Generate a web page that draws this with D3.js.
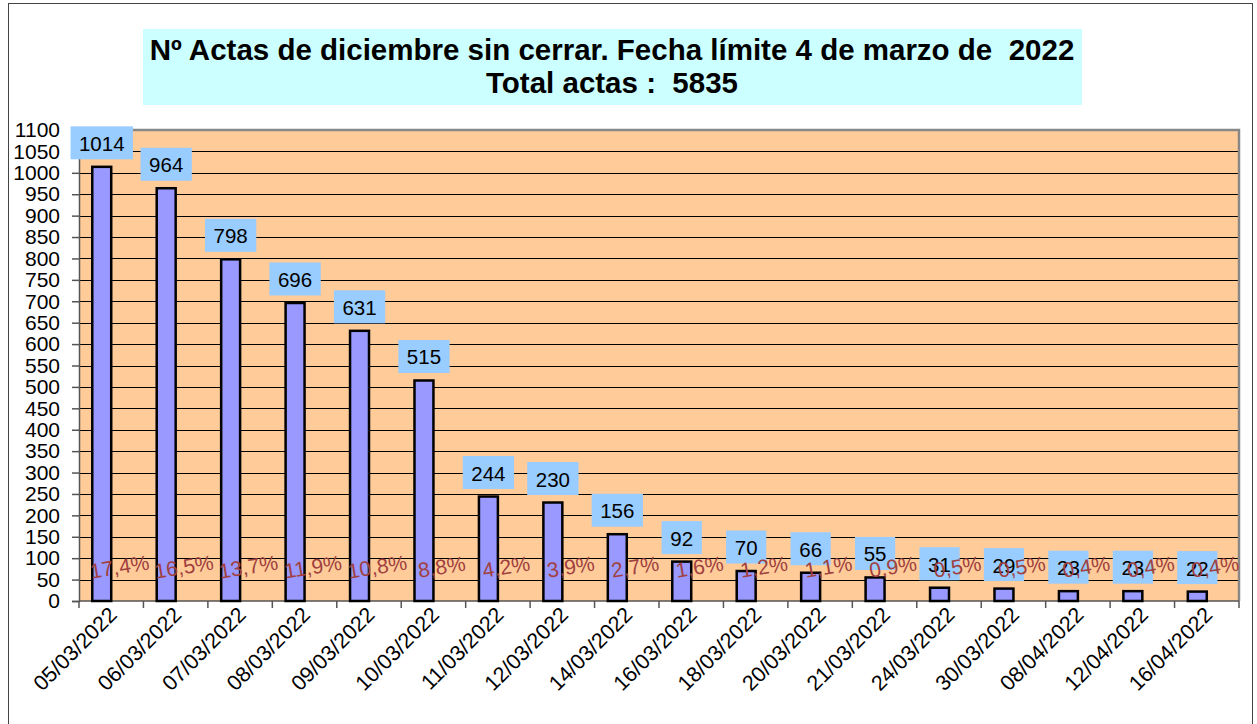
<!DOCTYPE html>
<html>
<head>
<meta charset="utf-8">
<script src="https://cdnjs.cloudflare.com/ajax/libs/d3/7.8.5/d3.min.js"></script>
<style>
  body { margin: 0; background: #fff; }
  text { font-family: Arial, "Liberation Sans", sans-serif; }
</style>
</head>
<body>
<div id="chart"></div>
<script>
// Data
var fechas = ["05/03/2022", "06/03/2022", "07/03/2022", "08/03/2022", "09/03/2022", "10/03/2022",
  "11/03/2022", "12/03/2022", "14/03/2022", "16/03/2022", "18/03/2022", "20/03/2022",
  "21/03/2022", "24/03/2022", "30/03/2022", "08/04/2022", "12/04/2022", "16/04/2022"];
var actas = [1014, 964, 798, 696, 631, 515, 244, 230, 156, 92, 70, 66, 55, 31, 29, 23, 23, 22];
var porcentajes = ["17,4%", "16,5%", "13,7%", "11,9%", "10,8%", "8,8%", "4,2%", "3,9%", "2,7%",
  "1,6%", "1,2%", "1,1%", "0,9%", "0,5%", "0,5%", "0,4%", "0,4%", "0,4%"];
var yTicks = d3.range(0, 1101, 50);
var titulo1 = "Nº Actas de diciembre sin cerrar. Fecha límite 4 de marzo de  2022";
var titulo2 = "Total actas :  5835";

var width = 1257;
var height = 724;
var plotLeft = 79;
var plotRight = 1239;
var plotTop = 130;
var plotBottom = 601;

var svg = d3.select("#chart")
  .append("svg")
  .attr("width", width)
  .attr("height", height);

// outer frame
svg.append("rect")
  .attr("x", 8.5).attr("y", 3.5)
  .attr("width", 1244).attr("height", 740)
  .attr("fill", "#fff")
  .attr("stroke", "#444")
  .attr("stroke-width", 1);

// title box
svg.append("rect")
  .attr("x", 143).attr("y", 29)
  .attr("width", 939).attr("height", 76)
  .attr("fill", "#ccffff");

svg.append("text")
  .attr("x", 612).attr("y", 60)
  .attr("text-anchor", "middle")
  .attr("font-size", "29.5px")
  .attr("font-weight", "bold")
  .style("white-space", "pre")
  .text(titulo1);
svg.append("text")
  .attr("x", 612).attr("y", 93)
  .attr("text-anchor", "middle")
  .attr("font-size", "29.5px")
  .attr("font-weight", "bold")
  .style("white-space", "pre")
  .text(titulo2);

// scales
var xScale = d3.scaleBand()
  .domain(fechas)
  .range([plotLeft, plotRight])
  .padding(0);

// two slots per date: the count bar and the (empty) percentage slot
var subScale = d3.scaleBand()
  .domain(["n", "p"])
  .range([0, xScale.bandwidth()])
  .paddingInner(0)
  .paddingOuter(0.7);

var yScale = d3.scaleLinear()
  .domain([0, 1100])
  .range([plotBottom, plotTop]);

// plot background
svg.append("rect")
  .attr("x", plotLeft).attr("y", plotTop)
  .attr("width", plotRight - plotLeft).attr("height", plotBottom - plotTop)
  .attr("fill", "#ffcc99");

// gridlines
svg.append("g")
  .selectAll("line")
  .data(yTicks.slice(1))
  .enter()
  .append("line")
  .attr("x1", plotLeft).attr("x2", plotRight)
  .attr("y1", function(d) { return Math.round(yScale(d)) + 0.5; })
  .attr("y2", function(d) { return Math.round(yScale(d)) + 0.5; })
  .attr("stroke", "#000")
  .attr("stroke-width", 1);

// plot border (top and right, gray)
svg.append("path")
  .attr("d", "M" + plotLeft + "," + plotTop + "H" + plotRight + "V" + plotBottom)
  .attr("fill", "none")
  .attr("stroke", "#888")
  .attr("stroke-width", 2.5);

// y axis
var yAxis = d3.axisLeft(yScale)
  .tickValues(yTicks)
  .tickFormat(d3.format("d"))
  .tickSize(7)
  .tickPadding(12);

var yG = svg.append("g")
  .attr("transform", "translate(" + plotLeft + ",0)")
  .call(yAxis);
yG.selectAll("text")
  .attr("font-size", "21px")
  .attr("font-family", "Arial, 'Liberation Sans', sans-serif")
  .attr("fill", "#000");
yG.selectAll("line, path").attr("stroke", "#555").attr("stroke-width", 1.5);

// x axis: ticks between categories
var xG = svg.append("g")
  .attr("transform", "translate(0," + plotBottom + ")");
xG.append("line")
  .attr("x1", plotLeft).attr("x2", plotRight)
  .attr("stroke", "#555").attr("stroke-width", 1.5);
xG.selectAll(".tk")
  .data(fechas.concat(["__end"]))
  .enter()
  .append("line")
  .attr("class", "tk")
  .attr("x1", function(d, i) { return plotLeft + i * xScale.step(); })
  .attr("x2", function(d, i) { return plotLeft + i * xScale.step(); })
  .attr("y1", 0).attr("y2", 7)
  .attr("stroke", "#555").attr("stroke-width", 1.5);

xG.selectAll(".xl")
  .data(fechas)
  .enter()
  .append("text")
  .attr("class", "xl")
  .attr("text-anchor", "end")
  .attr("font-size", "21.5px")
  .attr("transform", function(d) {
    var cx = xScale(d) + xScale.bandwidth() / 2 + 7;
    return "translate(" + cx + ",15)rotate(-45)";
  })
  .text(function(d) { return d; });

// bars
var data = fechas.map(function(f, i) {
  return { fecha: f, n: actas[i], pct: porcentajes[i] };
});

svg.append("g")
  .selectAll("rect")
  .data(data)
  .enter()
  .append("rect")
  .attr("x", function(d) { return xScale(d.fecha) + subScale("n"); })
  .attr("y", function(d) { return yScale(d.n); })
  .attr("width", subScale.bandwidth())
  .attr("height", function(d) { return yScale(0) - yScale(d.n); })
  .attr("fill", "#9999ff")
  .attr("stroke", "#000")
  .attr("stroke-width", 2.5);

// value labels
var lab = svg.append("g")
  .selectAll("g")
  .data(data)
  .enter()
  .append("g")
  .attr("transform", function(d) {
    var cx = xScale(d.fecha) + subScale("n") + subScale.bandwidth() / 2;
    return "translate(" + cx + "," + (yScale(d.n) - 24) + ")";
  });

lab.append("rect")
  .attr("x", function(d) { return -(String(d.n).length * 11.1 + 18) / 2; })
  .attr("y", -16.5)
  .attr("width", function(d) { return String(d.n).length * 11.1 + 18; })
  .attr("height", 33)
  .attr("fill", "#99ccff");

lab.append("text")
  .attr("text-anchor", "middle")
  .attr("y", 8)
  .attr("font-size", "20.5px")
  .text(function(d) { return d.n; });

// percentage labels (second series)
svg.append("g")
  .selectAll("text")
  .data(data)
  .enter()
  .append("text")
  .attr("text-anchor", "middle")
  .attr("font-size", "21px")
  .attr("fill", "#a0403f")
  .attr("transform", function(d) {
    var cx = xScale(d.fecha) + subScale("p") + subScale.bandwidth() / 2;
    return "translate(" + cx + "," + (yScale(0) - 27) + ")rotate(-9)";
  })
  .text(function(d) { return d.pct; });
</script>
</body>
</html>
